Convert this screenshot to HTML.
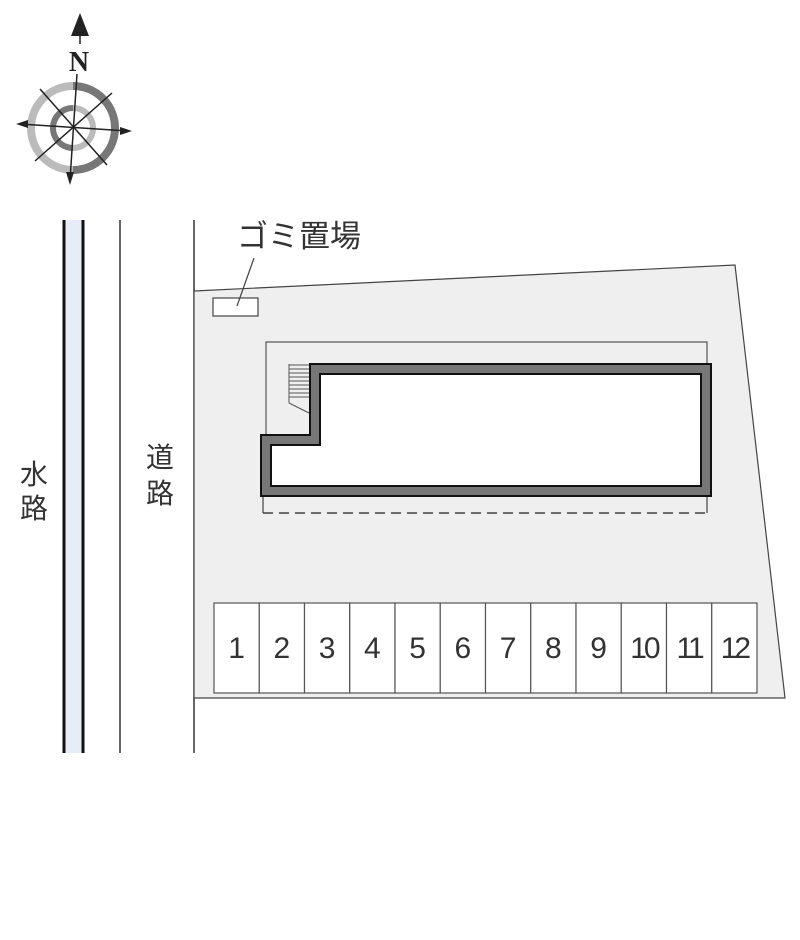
<!DOCTYPE html>
<html><head><meta charset="utf-8"><style>html,body{margin:0;padding:0;background:#fff}svg{display:block}</style></head><body>
<svg width="800" height="940" viewBox="0 0 800 940" xmlns="http://www.w3.org/2000/svg" font-family="Liberation Sans, Noto Sans CJK JP, sans-serif">
<rect width="800" height="940" fill="#fff"/>
<g>
<path d="M73 86 A42 42 0 0 1 115 128 A42 42 0 0 1 73 170" fill="none" stroke="#777" stroke-width="8"/>
<path d="M73 170 A42 42 0 0 1 31 128 A42 42 0 0 1 73 86" fill="none" stroke="#bbb" stroke-width="8"/>
<path d="M73 108 A20 20 0 0 0 73 148" fill="none" stroke="#777" stroke-width="6"/>
<path d="M73 108 A20 20 0 0 1 73 148" fill="none" stroke="#bbb" stroke-width="6"/>
<line x1="77" y1="74" x2="70" y2="180" stroke="#222" stroke-width="1.5"/>
<line x1="20" y1="124" x2="128" y2="131" stroke="#222" stroke-width="1.5"/>
<line x1="40" y1="89" x2="107" y2="165" stroke="#222" stroke-width="1.5"/>
<line x1="35" y1="161" x2="112" y2="93" stroke="#222" stroke-width="1.5"/>
<polygon points="80,13 71,36 89,36" fill="#222"/>
<line x1="80" y1="30" x2="80" y2="44" stroke="#222" stroke-width="1.5"/>
<polygon points="70,185 66,172 74,172" fill="#222"/>
<polygon points="16,124 28,120 28,128" fill="#222"/>
<polygon points="132,131 120,127 120,135" fill="#222"/>
<text x="79" y="71" font-family="Liberation Serif, serif" font-weight="bold" font-size="28" text-anchor="middle" fill="#222">N</text>
</g>
<rect x="63" y="220" width="21" height="533" fill="#e6ecf8"/>
<line x1="64" y1="220" x2="64" y2="753" stroke="#111" stroke-width="3"/>
<line x1="83" y1="220" x2="83" y2="753" stroke="#111" stroke-width="3"/>
<line x1="120" y1="220" x2="120" y2="753" stroke="#333" stroke-width="1.5"/>
<line x1="194" y1="220" x2="194" y2="753" stroke="#333" stroke-width="1.5"/>
<text x="34" y="484" font-size="28" text-anchor="middle" fill="#333">水</text>
<text x="34" y="518" font-size="28" text-anchor="middle" fill="#333">路</text>
<text x="160" y="467" font-size="28" text-anchor="middle" fill="#333">道</text>
<text x="160" y="503" font-size="28" text-anchor="middle" fill="#333">路</text>
<polygon points="194,291 735,265 785,698 194,698" fill="#efefef" stroke="#444" stroke-width="1.2"/>
<rect x="213" y="298" width="45" height="18" fill="#fff" stroke="#444" stroke-width="1.2"/>
<line x1="237" y1="306" x2="254" y2="258" stroke="#444" stroke-width="1.2"/>
<text x="237" y="247" font-size="31" fill="#333">ゴミ置場</text>
<rect x="266" y="342" width="441" height="140" fill="none" stroke="#555" stroke-width="1.2"/>
<line x1="263" y1="497" x2="263" y2="513" stroke="#444" stroke-width="1.2"/>
<line x1="263" y1="513" x2="707" y2="513" stroke="#444" stroke-width="1.5" stroke-dasharray="10,6"/>
<line x1="707" y1="497" x2="707" y2="513" stroke="#444" stroke-width="1.2"/>
<g stroke="#555" stroke-width="1">
<line x1="289" y1="365" x2="309" y2="365"/><line x1="289" y1="369" x2="309" y2="369"/><line x1="289" y1="373" x2="309" y2="373"/><line x1="289" y1="377" x2="309" y2="377"/><line x1="289" y1="381" x2="309" y2="381"/><line x1="289" y1="385" x2="309" y2="385"/><line x1="289" y1="389" x2="309" y2="389"/><line x1="289" y1="393" x2="309" y2="393"/><line x1="289" y1="397" x2="309" y2="397"/>
<line x1="289" y1="364" x2="289" y2="403"/><line x1="289" y1="403" x2="309" y2="413"/>
</g>
<path d="M261,435 L310,435 L310,364 L711,364 L711,496 L261,496 Z" fill="#777" stroke="#111" stroke-width="2"/>
<path d="M271,445 L320,445 L320,374 L701,374 L701,486 L271,486 Z" fill="#fff" stroke="#111" stroke-width="2"/>
<g fill="#fff" stroke="#555" stroke-width="1.2">
<rect x="214" y="603" width="45.25" height="90"/><rect x="259.25" y="603" width="45.25" height="90"/><rect x="304.5" y="603" width="45.25" height="90"/><rect x="349.75" y="603" width="45.25" height="90"/><rect x="395" y="603" width="45.25" height="90"/><rect x="440.25" y="603" width="45.25" height="90"/><rect x="485.5" y="603" width="45.25" height="90"/><rect x="530.75" y="603" width="45.25" height="90"/><rect x="576" y="603" width="45.25" height="90"/><rect x="621.25" y="603" width="45.25" height="90"/><rect x="666.5" y="603" width="45.25" height="90"/><rect x="711.75" y="603" width="45.25" height="90"/>
</g>
<g font-size="30" fill="#333" text-anchor="middle">
<text x="236.6" y="658">1</text><text x="281.9" y="658">2</text><text x="327.1" y="658">3</text><text x="372.4" y="658">4</text><text x="417.6" y="658">5</text><text x="462.9" y="658">6</text><text x="508.1" y="658">7</text><text x="553.4" y="658">8</text><text x="598.6" y="658">9</text><text x="643.9" y="658" letter-spacing="-3">10</text><text x="689.1" y="658" letter-spacing="-3">11</text><text x="734.4" y="658" letter-spacing="-3">12</text>
</g>
</svg>
</body></html>
